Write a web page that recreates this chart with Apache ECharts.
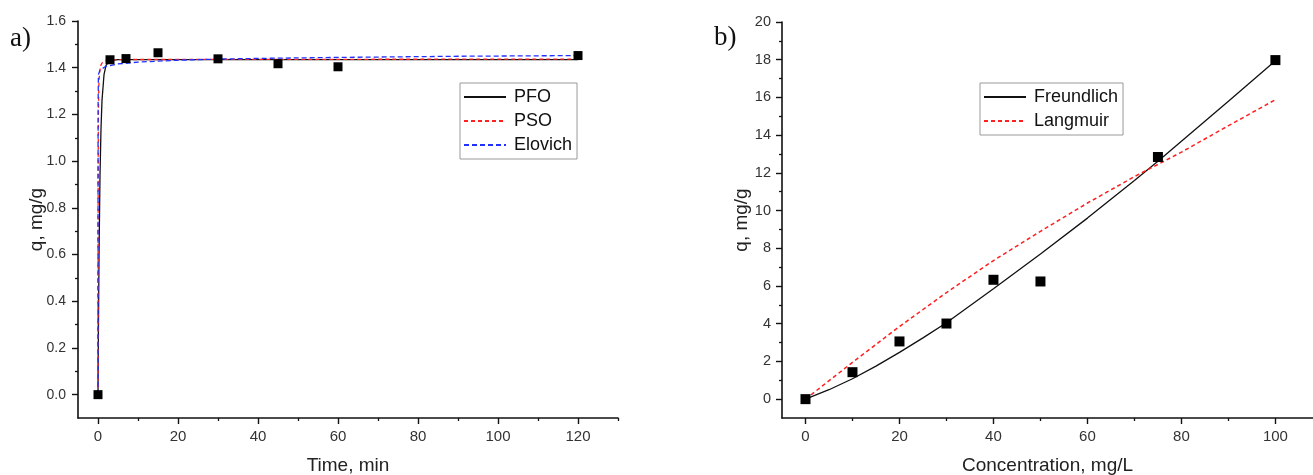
<!DOCTYPE html>
<html>
<head>
<meta charset="utf-8">
<script src="https://cdn.jsdelivr.net/npm/echarts@6/dist/echarts.min.js"></script>
<style>
html,body{margin:0;padding:0;background:#fff;}
#chart{width:1313px;height:475px;}
</style>
</head>
<body>
<div id="chart"></div>
<script>
// ---------- Panel a) kinetics ----------
const timeA = [0, 3, 7, 15, 30, 45, 60, 120];
const qA = [0, 1.434, 1.439, 1.464, 1.438, 1.417, 1.404, 1.452];

const pfoT = [0, 0.1, 0.25, 0.5, 0.75, 1, 1.5, 2, 3, 5, 120];
const pfoQ = [0, 0.26, 0.59, 0.94, 1.14, 1.26, 1.37, 1.41, 1.43, 1.435, 1.435];

const psoT = [0, 0.02, 0.05, 0.1, 0.2, 0.4, 0.7, 1, 2, 5, 120];
const psoQ = [0, 0.6, 1.0, 1.2, 1.32, 1.38, 1.41, 1.42, 1.43, 1.435, 1.437];

const eloT = [0, 0.01, 0.03, 0.1, 0.5, 1, 2, 5, 10, 20, 30, 45, 60, 90, 120];
const eloQ = [0, 0.9, 1.25, 1.37, 1.39, 1.398, 1.406, 1.416, 1.424, 1.432, 1.437, 1.441, 1.444, 1.449, 1.452];

const xTicksA = [0, 20, 40, 60, 80, 100, 120];
const xMinorA = [10, 30, 50, 70, 90, 110, 130];
const yTicksA = [0, 0.2, 0.4, 0.6, 0.8, 1.0, 1.2, 1.4, 1.6];
const yMinorA = [0.1, 0.3, 0.5, 0.7, 0.9, 1.1, 1.3, 1.5];

// ---------- Panel b) isotherms ----------
const concB = [0, 10, 20, 30, 40, 50, 75, 100];
const qB = [0, 1.43, 3.06, 4.01, 6.33, 6.24, 12.84, 17.98];

const frC = [0, 5, 10, 15, 20, 25, 30, 40, 50, 60, 70, 75, 80, 90, 100];
const frQ = [0, 0.5, 1.08, 1.75, 2.48, 3.25, 4.05, 5.85, 7.7, 9.6, 11.6, 12.62, 13.68, 15.8, 17.95];

const laC = [0, 10, 20, 30, 40, 50, 60, 70, 80, 90, 100];
const laQ = [0, 1.95, 3.85, 5.65, 7.35, 8.9, 10.4, 11.8, 13.1, 14.5, 15.88];

const xTicksB = [0, 20, 40, 60, 80, 100];
const xMinorB = [10, 30, 50, 70, 90];
const yTicksB = [0, 2, 4, 6, 8, 10, 12, 14, 16, 18, 20];
const yMinorB = [1, 3, 5, 7, 9, 11, 13, 15, 17, 19];

const zip = (a, b) => a.map((v, i) => [v, b[i]]);

const FONT = '"Liberation Sans", Arial, sans-serif';
const AXC = '#111';
const LBL = '#333';

function mainAxis(grid, min, max, ticks, fmt, name, gap, pos, moveOverlap, lblSize, lblMargin) {
  return {
    type: 'value', gridIndex: grid, min: min, max: max, position: pos,
    name: name, nameLocation: 'middle', nameGap: gap, nameMoveOverlap: moveOverlap,
    nameTextStyle: {fontSize: 19, color: '#222', fontFamily: FONT},
    axisLine: {show: true, onZero: false, lineStyle: {color: AXC, width: 1.6}},
    axisTick: {show: true, customValues: ticks, length: 6, lineStyle: {color: AXC, width: 1.4}},
    axisLabel: {show: true, customValues: ticks, margin: lblMargin, fontSize: lblSize, color: LBL, fontFamily: FONT, formatter: fmt},
    splitLine: {show: false}
  };
}
function minorAxis(grid, min, max, ticks, pos) {
  return {
    type: 'value', gridIndex: grid, min: min, max: max, position: pos,
    axisLine: {show: false, onZero: false},
    axisTick: {show: true, customValues: ticks, length: 3, lineStyle: {color: AXC, width: 1.3}},
    axisLabel: {show: false},
    splitLine: {show: false}
  };
}

const legendBase = {
  orient: 'vertical', itemWidth: 42, itemHeight: 10, itemGap: 6, padding: [5, 5, 5, 3],
  borderColor: '#999', borderWidth: 1, backgroundColor: '#fff',
  itemStyle: {opacity: 0},
  textStyle: {fontSize: 18, color: '#111', fontFamily: FONT, padding: [0, 0, 0, 3]}
};

const chart = echarts.init(document.getElementById('chart'), null, {renderer: 'canvas'});
const option = {
  backgroundColor: '#ffffff',
  animation: false,
  grid: [
    {left: 78, top: 21, width: 540, height: 397, outerBoundsMode: 'none', containLabel: false},
    {left: 782, top: 22, width: 531, height: 396, outerBoundsMode: 'none', containLabel: false}
  ],
  xAxis: [
    mainAxis(0, -5, 130, xTicksA, v => String(v), 'Time, min', 38, 'bottom', true, 15, 11),
    minorAxis(0, -5, 130, xMinorA, 'bottom'),
    mainAxis(1, -5, 108, xTicksB, v => String(v), 'Concentration, mg/L', 38, 'bottom', true, 15, 11),
    minorAxis(1, -5, 108, xMinorB, 'bottom')
  ],
  yAxis: [
    mainAxis(0, -0.1, 1.6, yTicksA, v => v.toFixed(1), 'q, mg/g', 32, 'left', false, 14, 12),
    minorAxis(0, -0.1, 1.6, yMinorA, 'left'),
    mainAxis(1, -1, 20, yTicksB, v => String(v), 'q, mg/g', 31, 'left', false, 14.5, 11),
    minorAxis(1, -1, 20, yMinorB, 'left')
  ],
  legend: [
    Object.assign({}, legendBase, {left: 460, top: 83, data: ['PFO', 'PSO', 'Elovich']}),
    Object.assign({}, legendBase, {left: 980, top: 83, data: ['Freundlich', 'Langmuir']})
  ],
  graphic: [
    {type: 'text', left: 10, top: 25, style: {text: 'a)', font: '27px "Liberation Serif", "Times New Roman", serif', fill: '#111'}},
    {type: 'text', left: 714, top: 24, style: {text: 'b)', font: '27px "Liberation Serif", "Times New Roman", serif', fill: '#111'}}
  ],
  series: [
    {name: 'PFO', type: 'line', xAxisIndex: 0, yAxisIndex: 0, data: zip(pfoT, pfoQ), symbol: 'none', showSymbol: false,
     lineStyle: {color: '#111', width: 1.3, type: 'solid'}, itemStyle: {color: '#111'}, z: 3},
    {name: 'PSO', type: 'line', xAxisIndex: 0, yAxisIndex: 0, data: zip(psoT, psoQ), symbol: 'none', showSymbol: false,
     lineStyle: {color: '#ff2020', width: 1.3, type: [4, 3]}, itemStyle: {color: '#ff2020'}, z: 4},
    {name: 'Elovich', type: 'line', xAxisIndex: 0, yAxisIndex: 0, data: zip(eloT, eloQ), symbol: 'none', showSymbol: false,
     lineStyle: {color: '#2030ff', width: 1.3, type: [5, 3]}, itemStyle: {color: '#2030ff'}, z: 5},
    {name: 'dataA', type: 'scatter', xAxisIndex: 0, yAxisIndex: 0, data: zip(timeA, qA), symbol: 'rect', symbolSize: 9,
     itemStyle: {color: '#000', opacity: 1}, z: 10},
    {name: 'Freundlich', type: 'line', xAxisIndex: 2, yAxisIndex: 2, data: zip(frC, frQ), symbol: 'none', showSymbol: false,
     lineStyle: {color: '#111', width: 1.3, type: 'solid'}, itemStyle: {color: '#111'}, z: 3},
    {name: 'Langmuir', type: 'line', xAxisIndex: 2, yAxisIndex: 2, data: zip(laC, laQ), symbol: 'none', showSymbol: false,
     lineStyle: {color: '#ff2020', width: 1.5, type: [4, 3]}, itemStyle: {color: '#ff2020'}, z: 4},
    {name: 'dataB', type: 'scatter', xAxisIndex: 2, yAxisIndex: 2, data: zip(concB, qB), symbol: 'rect', symbolSize: 10,
     itemStyle: {color: '#000', opacity: 1}, z: 10}
  ]
};
chart.setOption(option);
</script>
</body>
</html>
